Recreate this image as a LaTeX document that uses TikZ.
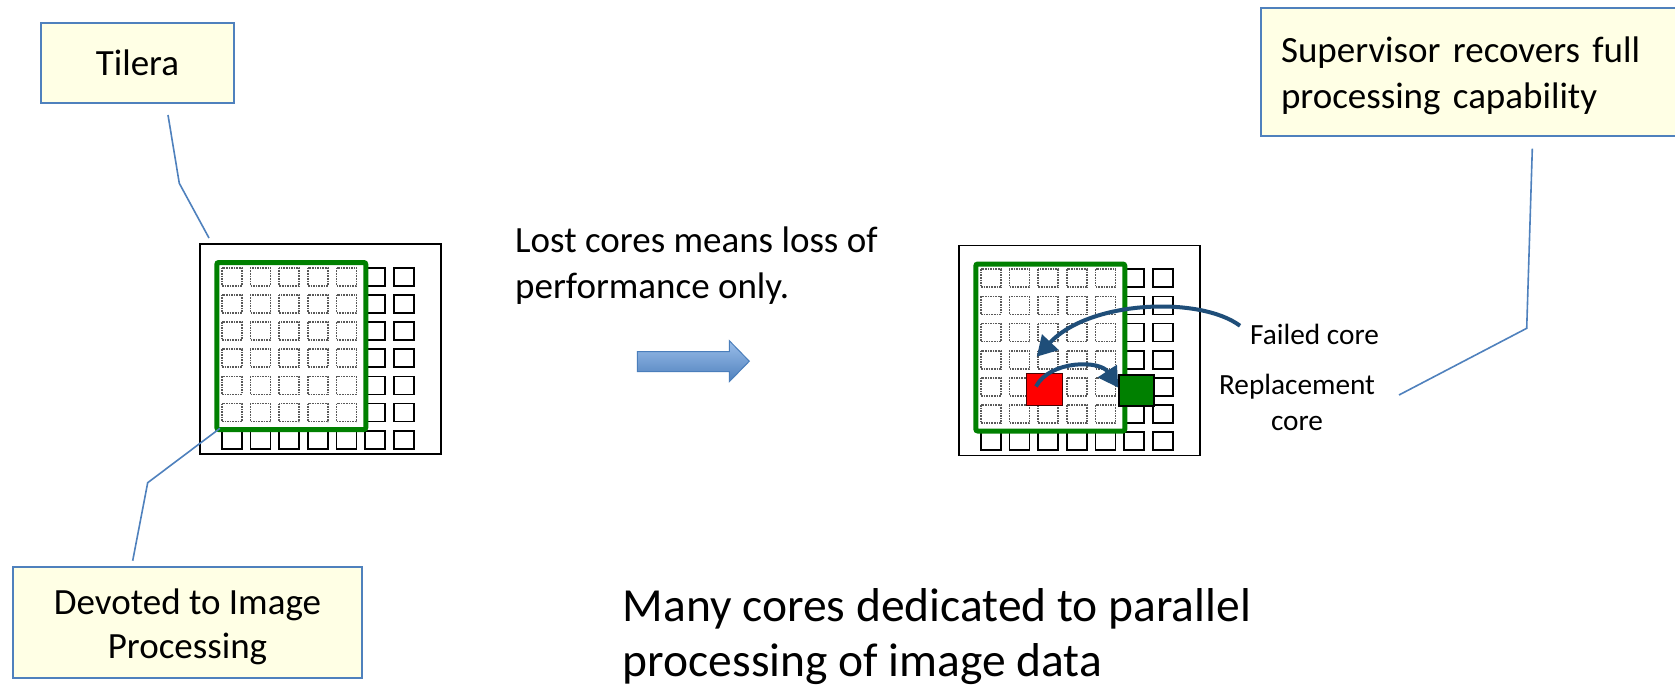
\documentclass[tikz,border=0pt]{standalone}
\usepackage{fontspec}
\setmainfont{Carlito}
\usetikzlibrary{arrows.meta}

\definecolor{calloutblue}{RGB}{79,129,189}
\definecolor{notefill}{RGB}{255,255,229}
\definecolor{arrowblue}{RGB}{31,78,121}
\definecolor{regiongreen}{RGB}{0,128,0}
\definecolor{blocktop}{RGB}{155,190,234}
\definecolor{blockbottom}{RGB}{79,129,189}
\definecolor{blockedge}{RGB}{74,126,187}

\tikzset{
  note/.style={draw=calloutblue, line width=2pt, fill=notefill, inner sep=0pt,
    font=\fontsize{37}{44}\selectfont},
  callout/.style={draw=calloutblue, line width=1.6pt},
  chip/.style={draw=black, line width=1.6pt, fill=white, inner sep=0pt, rectangle},
  region/.style={draw=regiongreen, line width=5pt, rounded corners=2pt, inner sep=0pt, rectangle},
  corefree/.style={draw=black, line width=1.7pt},
  coreimg/.style={draw=black!65, line width=1.6pt, densely dotted},
  label/.style={inner sep=0pt, font=\fontsize{37}{45.7}\selectfont},
  smalllabel/.style={inner sep=0pt, font=\fontsize{29.3}{35.7}\selectfont},
  bigtext/.style={inner sep=0pt, font=\fontsize{47.5}{54.3}\selectfont},
  remap/.style={draw=arrowblue, line width=4pt, -{Triangle[length=20pt,width=22pt]}},
}

\begin{document}
\begin{tikzpicture}[x=1pt, y=-1pt]
\clip (0,0) rectangle (1675,687);
\fill[white] (0,0) rectangle (1675,687);

% ---- two tile processors: left as shipped, right after a core failure ----
\foreach \dx/\dy/\nm in {0/0/L, 759/1.5/R}{
  \begin{scope}[shift={(\dx,\dy)}]
    \node[chip, anchor=north west, minimum width=241, minimum height=210] (chip\nm) at (199,243) {};
    % cores given to image processing (5 x 6 block)
    \foreach \i in {0,...,4}{
      \foreach \j in {0,...,5}{
        \draw[coreimg] ({221.7+28.7*\i},{267.7+27.17*\j}) rectangle ++(20,18);
      }
    }
    % remaining cores: two right columns and the bottom row
    \foreach \i in {5,6}{
      \foreach \j in {0,...,6}{
        \draw[corefree] ({221.7+28.7*\i},{267.7+27.17*\j}) rectangle ++(20,18);
      }
    }
    \foreach \i in {0,...,4}{
      \draw[corefree] ({221.7+28.7*\i},{267.7+27.17*6}) rectangle ++(20,18);
    }
    \node[region, anchor=north west, minimum width=149, minimum height=167] (img\nm) at (214.3,260) {};
  \end{scope}
}

% failed and replacement cores
\node[rectangle, fill=red, draw=black!70!red, line width=1pt, inner sep=0pt,
      minimum width=36, minimum height=32, anchor=north west] (failedcore) at (1025.7,373.3) {};
\node[rectangle, fill=regiongreen, draw=black, line width=1.8pt, inner sep=0pt,
      minimum width=35, minimum height=31, anchor=north west] (sparecore) at (1118.3,374.3) {};

% ---- callout notes ----
\node[note, minimum width=193, minimum height=80] (tilera) at (137.5,63) {Tilera};
\node[note, minimum width=349, minimum height=111, align=center] (devoted) at (187.5,622.5)
  {\rule{0pt}{35pt}Devoted to Image\\Processing};
\node[note, anchor=north west, minimum height=128, inner xsep=20pt, text width=400pt, align=left,
      font=\fontsize{37}{45.7}\selectfont] (supervisor) at (1260,7)
  {\rule{0pt}{34pt}Supervisor recovers full\\processing capability};

% ---- plain labels (base anchor sits on the last line) ----
\node[label, anchor=base west, align=left] (lost) at (515,298.3)
  {Lost cores means loss of\\performance only.};
\node[smalllabel, anchor=base west] (failed) at (1250,344.3) {Failed core};
\node[smalllabel, anchor=base, align=center] (replacement) at (1297,430) {Replacement\\core};
\node[bigtext, anchor=base west, align=left] (summary) at (622.7,676)
  {Many cores dedicated to parallel\\processing of image data};

% ---- block arrow between the two processors ----
\path[draw=blockedge, line width=1pt, top color=blocktop, bottom color=blockbottom]
  (637.3,351.7) -- (729.3,351.7) -- (729.3,340.7) -- (749.3,361.2)
  -- (729.3,381.7) -- (729.3,371.7) -- (637.3,371.7) -- cycle;

% ---- callout leaders ----
\draw[callout] ([xshift=30.5pt,yshift=-11pt]tilera.south) -- (179.3,183.3) -- ([xshift=10pt,yshift=5pt]chipL.north west);
\draw[callout] ([xshift=-54.8pt,yshift=5.3pt]devoted.north) -- (147.7,482.7) -- ([xshift=5.7pt,yshift=3.7pt]imgL.south west);
\coordinate (supervisortip) at (1399,395);
\draw[callout] ([xshift=272.3pt,yshift=-11.7pt]supervisor.south west) -- (1526.7,328.3) -- (supervisortip);

% ---- remapping arrows ----
\draw[remap] ([xshift=-10pt,yshift=-2pt]failed.north west) .. controls (1200,296) and (1090,300) .. ([xshift=11pt,yshift=16.6pt]failedcore.north west);
\draw[remap] ([xshift=10.3pt,yshift=3.3pt]failedcore.west) .. controls (1050,360) and (1100,360) .. ([yshift=3pt]sparecore.west);
\end{tikzpicture}
\end{document}
